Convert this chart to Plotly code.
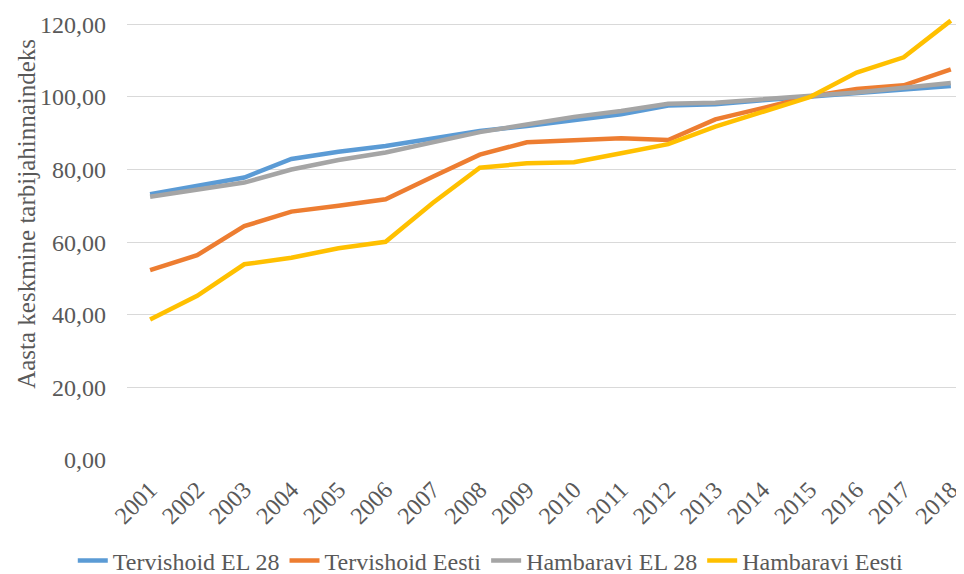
import plotly.graph_objects as go

years = [str(y) for y in range(2001, 2019)]
tervishoid_el28 = [73.2, 75.6, 77.8, 82.9, 84.9, 86.5, 88.4, 90.6, 92.0, 93.5, 95.2, 97.6, 98.0, 99.1, 100.0, 100.8, 102.0, 103.0]
tervishoid_eesti = [52.3, 56.4, 64.4, 68.4, 70.0, 71.8, 78.0, 84.1, 87.5, 87.9, 88.6, 88.1, 93.8, 96.9, 100.1, 102.2, 103.2, 107.6]
hambaravi_el28 = [72.5, 74.5, 76.4, 80.0, 82.6, 84.7, 87.4, 90.3, 92.4, 94.5, 96.1, 98.1, 98.4, 99.4, 100.1, 101.2, 102.5, 103.8]
hambaravi_eesti = [38.7, 45.2, 53.9, 55.7, 58.3, 60.1, 70.8, 80.5, 81.7, 82.0, 84.5, 87.0, 91.8, 95.9, 99.9, 106.7, 110.9, 121.0]

series = [
    ("Tervishoid EL 28", tervishoid_el28, "#5B9BD5"),
    ("Tervishoid Eesti", tervishoid_eesti, "#ED7D31"),
    ("Hambaravi EL 28", hambaravi_el28, "#A5A5A5"),
    ("Hambaravi Eesti", hambaravi_eesti, "#FFC000"),
]

fig = go.Figure()
for name, vals, col in series:
    fig.add_trace(go.Scatter(x=years, y=vals, name=name, mode="lines",
                             line=dict(color=col, width=4.5)))

font = "Liberation Serif, Times New Roman, serif"
grey = "#595959"
fig.update_layout(
    width=956, height=566,
    margin=dict(l=119, r=0, t=9, b=114, autoexpand=False),
    paper_bgcolor="white", plot_bgcolor="white",
    separators=", ",
    font=dict(family=font, color=grey, size=24),
    showlegend=True,
    legend=dict(orientation="h", xref="container", yref="container",
                x=0.505, xanchor="center", y=0.023, yanchor="middle",
                font=dict(family=font, size=24, color=grey),
                itemwidth=30, tracegroupgap=0),
    xaxis=dict(type="category", range=[-0.49, 17.28], tickangle=-45,
               showgrid=False, showline=False, ticks="", automargin=False,
               ticklabelstandoff=10,
               tickfont=dict(family=font, size=24, color=grey)),
    yaxis=dict(range=[0, 122], tick0=0, dtick=20, tickformat=".2f",
               showgrid=True, gridcolor="#D9D9D9", gridwidth=1.3,
               zeroline=False, showline=False, ticks="", automargin=False,
               ticklabelstandoff=20,
               tickfont=dict(family=font, size=24, color=grey)),
    annotations=[dict(text="Aasta keskmine tarbijahinnaindeks", textangle=-90,
                      xref="paper", yref="paper", x=-0.1195, y=0.5556,
                      xanchor="center", yanchor="middle", showarrow=False,
                      font=dict(family=font, size=25, color=grey))],
)
fig.write_html("out.html")
